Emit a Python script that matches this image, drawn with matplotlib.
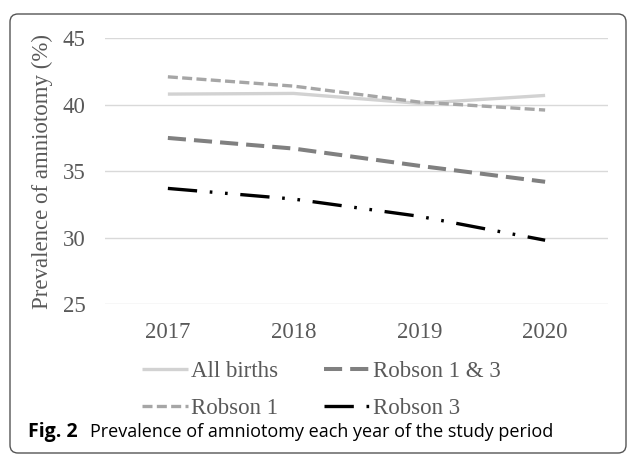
import matplotlib.pyplot as plt
from matplotlib.patches import FancyBboxPatch

years = ["2017", "2018", "2019", "2020"]
all_births = [40.8, 40.85, 40.1, 40.7]
robson_1 = [42.1, 41.4, 40.2, 39.6]
robson_1_3 = [37.5, 36.7, 35.4, 34.2]
robson_3 = [33.7, 32.9, 31.6, 29.8]

W, H = 628, 454
fig = plt.figure(figsize=(W / 100, H / 100), dpi=100)
ax = fig.add_axes([105 / W, 1 - 304 / H, 503 / W, (304 - 38.3) / H])

x = range(len(years))
# order matters for the legend (column-major fill with ncol=2)
ax.plot(x, all_births, color="#d2d2d2", lw=2.4, solid_capstyle="butt", label="All births")
ax.plot(x, robson_1, color="#a6a6a6", lw=2.4, dashes=(3, 1.3), label="Robson 1")
ax.plot(x, robson_1_3, color="#808080", lw=2.9, dashes=(4.5, 2.0), label="Robson 1 & 3")
ax.plot(x, robson_3, color="black", lw=2.4, dashes=(8.8, 3.8, 0.8, 3.8, 0.8, 3.8), label="Robson 3")

serif = "Liberation Serif"
grey = "#595959"
ax.set_xlim(-0.5, 3.5)
ax.set_ylim(25, 45)
ax.set_yticks([25, 30, 35, 40, 45])
ax.set_xticks(list(x))
ax.set_xticklabels(years)
ax.grid(axis="y", color="#d9d9d9", lw=1)
ax.set_axisbelow(True)
for s in ax.spines.values():
    s.set_visible(False)
ax.tick_params(length=0, labelsize=16.5, labelcolor=grey)
ax.tick_params(axis="x", pad=13)
ax.tick_params(axis="y", pad=14)
for lab in ax.get_xticklabels() + ax.get_yticklabels():
    lab.set_fontfamily(serif)
ax.set_ylabel("Prevalence of amniotomy (%)", fontsize=16.5, color=grey, fontfamily=serif)
ax.yaxis.set_label_coords(-0.103, 0.5)

fig.legend(loc="upper left", bbox_to_anchor=(142 / W, 1 - 361 / H), ncol=2,
           frameon=False, prop={"family": serif, "size": 16.5}, labelcolor=grey,
           handlelength=2.0, handletextpad=0.15, columnspacing=2.0,
           labelspacing=0.7, borderpad=0, borderaxespad=0)

fig.text(28 / W, 1 - 437 / H, "Fig. 2", fontsize=14, va="baseline",
         fontfamily="Open Sans", fontweight="bold", color="black")
fig.text(90 / W, 1 - 437 / H, "Prevalence of amniotomy each year of the study period",
         fontsize=13, va="baseline", fontfamily="Open Sans", color="black")

# rounded frame around the figure panel
box = FancyBboxPatch((10 / 100, 1 / 100), 616 / 100, 439 / 100,
                     boxstyle="round,pad=0,rounding_size=0.08",
                     transform=fig.dpi_scale_trans, fill=False, ec="#555555", lw=1.0)
fig.patches.append(box)

fig.savefig("out.png", dpi=100)
